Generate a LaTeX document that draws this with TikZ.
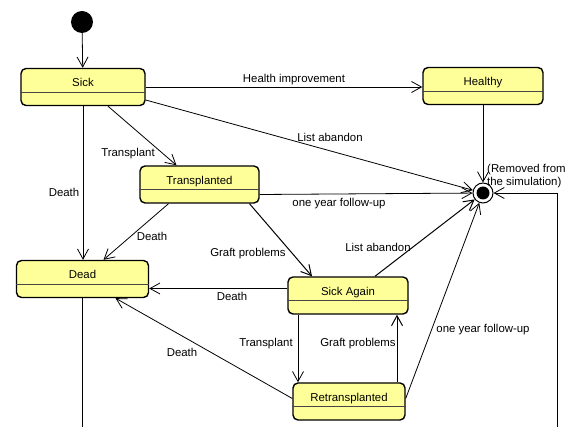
\documentclass[tikz,border=0pt]{standalone}
\usepackage{fontspec}
\setmainfont{Liberation Sans}
\usetikzlibrary{arrows.meta,positioning,calc}
\definecolor{stateyellow}{RGB}{255,255,153}
\definecolor{sepgray}{RGB}{70,70,70}

\begin{document}
\begin{tikzpicture}[x=1pt,y=-1pt,
    font=\fontsize{11.4}{13}\selectfont,
    >={Straight Barb[length=10pt,width=11pt]},
    state/.style={draw, line width=1.4pt, rounded corners=5pt, fill=stateyellow,
      minimum height=37pt, text height=9pt, text depth=9pt, inner sep=0pt},
    lbl/.style={inner sep=0pt, anchor=base},
    trans/.style={->, line width=0.8pt}]
  \useasboundingbox (0,0) rectangle (576,427);
  % States
  \node[circle, fill, minimum size=22pt, inner sep=0pt] (init) at (82,22) {};
  \node[state, minimum width=124pt] (sick) at (83,87) {Sick};
  \node[state, minimum width=120pt] (healthy) at (483,86) {Healthy};
  \node[state, minimum width=119pt] (transplanted) at (199.5,184.5) {Transplanted};
  \node[state, minimum width=132pt] (dead) at (82.5,279) {Dead};
  \node[state, minimum width=120pt] (sickagain) at (348,295.5) {Sick Again};
  \node[state, minimum width=112pt] (retransplanted) at (349,401.5) {Retransplanted};
  \foreach \s in {sick,healthy,transplanted,dead,sickagain,retransplanted}
    \draw[sepgray, line width=0.8pt] ($(\s.north west)!0.63!(\s.south west)$)
      -- ($(\s.north east)!0.63!(\s.south east)$);
  % Final state
  \node[circle, draw, line width=1pt, fill=white, minimum size=20pt, inner sep=0pt] (final) at (483,193) {};
  \fill (final.center) circle (6.5pt);
  \node[anchor=north west, align=left, inner sep=0pt] (removed) at (487,164) {(Removed from\\the simulation)};
  % Transitions from Sick
  \draw[trans] (init) -- (sick);
  \draw[trans] (sick.east) -- (sick.east -| healthy.west);
  \draw[trans] ([yshift=-13pt]sick.east) -- (final);
  \draw[trans] ([xshift=25pt]sick.south) -- ([xshift=-23pt]transplanted.north);
  \draw[trans] (sick.south) -- (sick.south |- dead.north);
  \draw[trans] (healthy.south) -- (final);
  % Transitions from Transplanted
  \draw[trans] ([yshift=-10pt]transplanted.east) -- (final);
  \draw[trans] ([xshift=-31pt]transplanted.south) -- ([xshift=21pt]dead.north);
  \draw[trans, line width=1pt] ([xshift=50pt]transplanted.south) -- ([xshift=-36pt]sickagain.north);
  % Transitions from Sick Again
  \draw[trans] ([yshift=7pt]sickagain.west) -- ([yshift=7pt]sickagain.west -| dead.east);
  \draw[trans, line width=1pt] ([xshift=27pt]sickagain.north) -- (final);
  \draw[trans] ([xshift=-50pt]sickagain.south) -- ([xshift=-50pt]sickagain.south |- retransplanted.north);
  % Transitions from Retransplanted
  \draw[trans, line width=1pt] ([xshift=48pt]retransplanted.north) -- ([xshift=48pt]retransplanted.north |- sickagain.south);
  \draw[trans] ([yshift=3pt]retransplanted.west) -- ([xshift=33pt]dead.south);
  \draw[trans] ([yshift=3pt]retransplanted.east) -- (final);
  % Leaving the picture at the bottom
  \coordinate (loopin) at (557,427);
  \coordinate (deadexit) at (dead.south |- loopin);
  \draw[line width=0.8pt] (dead.south) -- (deadexit);
  \draw[trans] (loopin) |- (final);
  % Labels
  \node[lbl] (lhealth) at (294,83) {Health improvement};
  \node[lbl] (labandon) at (330,142) {List abandon};
  \node[lbl] (ltransplant) at (128,157) {Transplant};
  \node[lbl] (ldeath) at (64,197) {Death};
  \node[lbl] (lfollow) at (339,207) {one year follow-up};
  \node[lbl] (ldeathb) at (152,241) {Death};
  \node[lbl] (lgraft) at (248,257) {Graft problems};
  \node[lbl] (ldeathc) at (232,301) {Death};
  \node[lbl] (labandonb) at (378,252) {List abandon};
  \node[lbl] (ltransplantb) at (266,347) {Transplant};
  \node[lbl] (lgraftb) at (358,347) {Graft problems};
  \node[lbl] (ldeathd) at (182,357) {Death};
  \node[lbl] (lfollowb) at (483,333) {one year follow-up};
\end{tikzpicture}
\end{document}
